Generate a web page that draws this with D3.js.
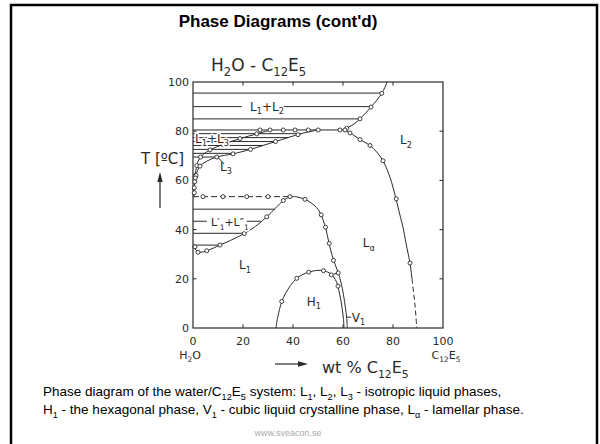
<!DOCTYPE html>
<html><head><meta charset="utf-8">
<script src="https://cdn.jsdelivr.net/npm/d3@7"></script>
<style>body{margin:0;background:#fff}svg{display:block}</style>
</head><body>
<svg id="c" width="600" height="444"></svg>
<script>
// ---------------- data (wt% C12E5, T in °C) ----------------
const xTicks = [0, 20, 40, 60, 80, 100];
const yTicks = [0, 20, 40, 60, 80, 100];

const l2UpperBoundary = [[60,80.6],[62,81.5],[64.5,83],[66.8,85],[69,87.3],[71.2,89.8],[73.5,92.6],[75.5,95.4],[76.7,97.7],[77.6,100]];
const l2UpperMarks = [[61.5,81.2],[66.8,85],[71.2,89.8],[75.5,95.4]];
const l2LowerBoundary = [[60,80.6],[62.8,79.3],[64.8,78],[66.8,76.6],[70.8,74.2],[73.5,71.5],[76,68],[78,63.5],[79.5,59],[80.7,54.5],[81.8,50],[83,45],[84,41],[85.1,35],[86.1,30],[86.8,26.4],[87.6,20]];
const l2LowerDashed = [[87.6,20],[88.4,13],[89,7],[89.5,0]];
const l2LowerMarks = [[62.8,79.3],[66.8,76.6],[70.8,74.2],[76,68],[81.3,52.5],[86.8,26.4]];

const threePhaseT = 80.5;
const threePhaseEnd = 60;
const threePhaseMarks = [26.8,30.8,36.1,40.8,46.1,50.1,58.8,60.8];

const l1l2TieT = [95.5, 90, 85];
const l1l2TieEnd = [75.5, 71.2, 66.8];

const l3UpperBoundary = [[0.6,58],[0.9,62],[1.5,66],[3,69.5],[6.8,72.4],[12,74.6],[18.8,77],[25.5,78.9],[31,80.5]];
const l3UpperMarks = [[0.9,62],[1.5,66],[3,69.5],[6.8,72.4],[12,74.6],[18.8,77],[25.5,78.9]];
const l3LowerBoundary = [[0.6,58],[1.2,62],[2.8,65.8],[5.5,67.8],[9.5,69.5],[16,70.8],[23,72.6],[28,74.2],[33,75.8],[38,77.4],[44,79.2],[50,80.5]];
const l3LowerMarks = [[1.2,62],[2.8,65.8],[9.5,69.5],[16,70.8],[23,72.6],[33,75.8],[42,78.6]];
const l1l3TieT = [79, 77.4, 75.8, 74.2, 72.6, 71, 69.5];
const l1l3TieEnd = [43.3, 38, 33, 28, 23, 16.8, 9.5];

const l1AxisBoundary = [[0.4,53.4],[0.5,56],[0.6,58]];
const l1AxisMarks = [[0.5,55],[0.5,57],[0.7,59.5],[0.9,61]];

const cloudT = 53.4;
const cloudEnd = 38.8;
const cloudMarks = [4, 12, 21.5, 30, 38.8];
const domeBoundary = [[0,33.2],[0.8,32.2],[1.8,31.1],[3.2,30.8],[5.5,31.4],[8,32.4],[10.8,33.7],[15,35.6],[20.5,38.4],[25,41.3],[29.5,45.2],[33,48.7],[36.1,51.8],[38.8,53.4]];
const domeMarks = [[0.8,33],[2,30.8],[5.5,31.4],[10.8,33.7],[20.5,38.4],[29.5,45.2],[36.1,51.8]];
const domeTieT = [48.3, 43.4, 38.5, 33.7];
const domeTieEnd = [32.7, 27.2, 20.7, 10.8];

const lalphaBoundary = [[38.8,53.4],[41.5,53.3],[44.8,52.3],[48,50.3],[50.5,47.6],[52,44],[53.2,40],[54.3,35],[55.5,30],[56.8,26],[58.1,22.4],[59.2,18.5],[60.2,13.5],[61,8],[61.5,4],[61.7,0]];
const lalphaMarks = [[44.8,52.3],[51.3,46],[53,41],[54.5,34.4],[56.2,27.5],[58.1,22.4]];

const h1Boundary = [[33.2,0],[33.8,4],[34.6,7.5],[35.5,10.8],[37,14],[39,17.3],[41.5,20.2],[44,21.8],[46.5,22.8],[49.5,23.4],[52.2,23.3],[54.5,22.4],[56.2,20.8],[57.5,18.5],[58.3,15.5],[59.2,11],[59.8,7],[60.2,3.5],[60.4,0]];
const h1Marks = [[35.5,10.8],[41.5,20.2],[46.3,22.7],[52.2,23.3],[55.3,21.6],[58,17]];
const v1Top = [[55.3,21.6],[58.1,22.4]];

// phase label texts ([text, 'sub'|'sup'|undefined]) and their data anchors
const labelTexts = [
  [["L"],["1","sub"],["+L"],["2","sub"]],
  [["L"],["1","sub"],["+L"],["3","sub"]],
  [["L"],["3","sub"]],
  [["L"],["2","sub"]],
  [["L′"],["1","sub"],["+L″"],["1","sub"]],
  [["L"],["1","sub"]],
  [["H"],["1","sub"]],
  [["L"],["α","sub"]],
  [["V"],["1","sub"]]
];
const labelAnchors = [[22.8,88.3],[0.8,75.3],[10.8,64],[82.8,74.8],[7.2,41.3],[18.4,23.9],[45.5,9],[67.9,32.8],[63.5,2.5]];

const titleText = "Phase Diagrams (cont'd)";
const chartTitle = [["H"],["2","sub"],["O - C"],["12","sub"],["E"],["5","sub"]];
const captionLine1 = [["Phase diagram of the water/C"],["12","sub"],["E"],["5","sub"],[" system: L"],["1","sub"],[", L"],["2","sub"],[", L"],["3","sub"],[" - isotropic liquid phases,"]];
const captionLine2 = [["H"],["1","sub"],[" - the hexagonal phase, V"],["1","sub"],[" - cubic liquid crystalline phase, L"],["α","sub"],[" - lamellar phase."]];
const footer = "www.sveacon.se";

// ---------------- drawing ----------------
const svg = d3.select("#c");
const x = d3.scaleLinear().domain([0,100]).range([193,443]);
const y = d3.scaleLinear().domain([0,100]).range([328,82]);
const ink = "#2a2a2a";
const diagFont = "'DejaVu Sans', sans-serif";

function rich(g, px, py, parts, size, opts={}) {
  const t = g.append("text").attr("x", px).attr("y", py)
    .attr("font-size", size).attr("font-family", opts.family || "'Liberation Sans', Arial, sans-serif")
    .attr("fill", opts.fill || "#000").attr("text-anchor", opts.anchor || "start");
  if (opts.weight) t.attr("font-weight", opts.weight);
  if (opts.halo) t.attr("stroke", "#fff").attr("stroke-width", 3).attr("paint-order", "stroke").attr("stroke-linejoin","round");
  let shift = 0;
  parts.forEach(p => {
    const s = p[1] === "sub" ? size*0.3 : p[1] === "sup" ? -size*0.35 : 0;
    const ts = t.append("tspan").text(p[0]).attr("dy", s - shift);
    if (p[1]) ts.attr("font-size", size*0.68);
    shift = s;
  });
  return t;
}

// slide frame
svg.append("rect").attr("x",11).attr("y",5).attr("width",586).attr("height",470)
  .attr("fill","none").attr("stroke","#000").attr("stroke-width",2.5);

svg.append("text").attr("x",278).attr("y",27).attr("text-anchor","middle")
  .attr("font-family","'Liberation Sans', Arial, sans-serif").attr("font-weight","bold")
  .attr("font-size",17).text(titleText);

const g = svg.append("g");
const line = d3.line().x(d=>x(d[0])).y(d=>y(d[1])).curve(d3.curveCatmullRom.alpha(0.5));
const straight = d3.line().x(d=>x(d[0])).y(d=>y(d[1]));

function path(data, dashed, curved=true) {
  g.append("path").attr("d", (curved?line:straight)(data)).attr("fill","none")
    .attr("stroke", ink).attr("stroke-width", 1).attr("stroke-dasharray", dashed ? dashed : null);
}
function hline(T, x0, x1, dashed) {
  path([[x0,T],[x1,T]], dashed, false);
}
function marks(data) {
  g.selectAll(null).data(data).enter().append("circle")
    .attr("cx", d=>x(d[0])).attr("cy", d=>y(d[1])).attr("r", 2)
    .attr("fill","#fff").attr("stroke", ink).attr("stroke-width", 0.9);
}

// frame + inner ticks
g.append("rect").attr("x", x(0)).attr("y", y(100)).attr("width", x(100)-x(0)).attr("height", y(0)-y(100))
  .attr("fill","none").attr("stroke", ink).attr("stroke-width", 1.2);
const inner = xTicks.slice(1,-1);
inner.forEach(v => {
  path([[v,0],[v,1.5]], null, false);
  path([[v,100],[v,98.5]], null, false);
  path([[0,v],[1.4,v]], null, false);
  path([[100,v],[98.6,v]], null, false);
});

// tie lines L1+L2
l1l2TieT.forEach((T,i) => {
  if (i === 1) { hline(T, 0, 19.5); hline(T, 34.5, l1l2TieEnd[i]); }
  else hline(T, 0, l1l2TieEnd[i]);
});
// L1+L3 tie lines
l1l3TieT.forEach((T,i) => hline(T, 0, l1l3TieEnd[i]));
// three phase line
hline(threePhaseT, 0, threePhaseEnd);
// L1'+L1'' tie lines
domeTieT.forEach((T,i) => {
  if (i === 1) { hline(T, 0, 5.5); hline(T, 21.5, domeTieEnd[i]); }
  else hline(T, 0, domeTieEnd[i]);
});
hline(cloudT, 0, cloudEnd, "6,3");

path(l2UpperBoundary);
path(l2LowerBoundary);
path(l2LowerDashed, "5,3");
path(l3UpperBoundary);
path(l3LowerBoundary);
path(l1AxisBoundary, null, false);
path(domeBoundary);
path(lalphaBoundary);
path(h1Boundary);
path(v1Top, null, false);
// pointer lines for L3 and V1 labels
path([[12.5,66.6],[9.8,69.6]], null, false);
path([[61.6,4.4],[63.3,4.4]], null, false);

marks(l2UpperMarks); marks(l2LowerMarks);
marks(threePhaseMarks.map(v=>[v,threePhaseT]));
marks(l3UpperMarks); marks(l3LowerMarks); marks(l1AxisMarks);
marks(cloudMarks.map(v=>[v,cloudT]));
marks(domeMarks); marks(lalphaMarks); marks(h1Marks);

// phase labels
labelTexts.forEach((parts,i) => {
  const a = labelAnchors[i];
  rich(g, x(a[0]), y(a[1]), parts, i===4 ? 11 : 12, {family: diagFont, fill: ink, halo: i<2||i===4});
});

// tick labels
yTicks.forEach(v => {
  g.append("text").attr("x", 189).attr("y", y(v)+4).attr("text-anchor","end")
    .attr("font-family", diagFont).attr("font-size", 11).attr("fill", ink).text(v);
});
xTicks.forEach(v => {
  g.append("text").attr("x", x(v)).attr("y", 345).attr("text-anchor","middle")
    .attr("font-family", diagFont).attr("font-size", 11).attr("fill", ink).text(v);
});
rich(g, 190, 359, [["H"],["2","sub"],["O"]], 11, {family: diagFont, fill: ink, anchor:"middle"});
rich(g, 446, 359, [["C"],["12","sub"],["E"],["5","sub"]], 11, {family: diagFont, fill: ink, anchor:"middle"});

// chart title
rich(g, 211, 71, chartTitle, 17, {family: diagFont, fill: ink});

// axis titles
rich(g, 141, 164, [["T [ºC]"]], 15, {family: diagFont, fill: ink});
g.append("line").attr("x1",160).attr("x2",160).attr("y1",208).attr("y2",180).attr("stroke",ink).attr("stroke-width",1.2);
g.append("path").attr("d","M160,172 L157.3,182 L162.7,182 Z").attr("fill",ink);
g.append("line").attr("x1",275).attr("x2",300).attr("y1",364).attr("y2",364).attr("stroke",ink).attr("stroke-width",1.2);
g.append("path").attr("d","M308,364 L298,361.3 L298,366.7 Z").attr("fill",ink);
rich(g, 322, 373, [["wt % C"],["12","sub"],["E"],["5","sub"]], 16, {family: diagFont, fill: ink});

// caption
rich(svg, 43, 396, captionLine1, 13.5, {});
rich(svg, 43, 414, captionLine2, 13.5, {});
svg.append("text").attr("x",288).attr("y",436).attr("text-anchor","middle")
  .attr("font-family","'Liberation Sans', Arial, sans-serif").attr("font-size",9).attr("fill","#aaa").text(footer);
</script>
</body></html>
